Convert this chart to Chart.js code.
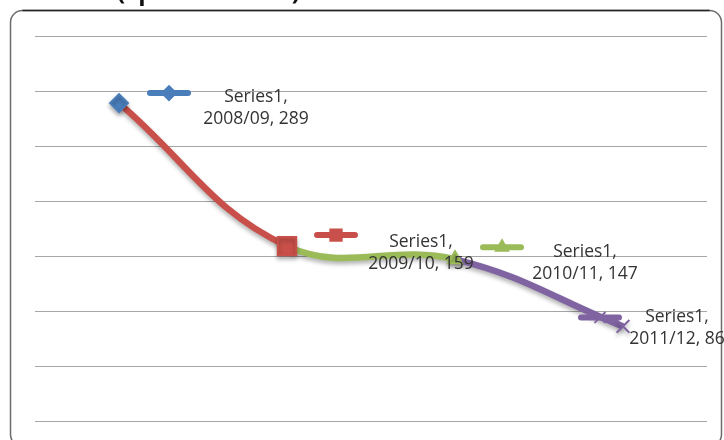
<!DOCTYPE html>
<html>
<head>
<meta charset="utf-8">
<script src="https://cdn.jsdelivr.net/npm/chart.js@4.4.1/dist/chart.umd.min.js"></script>
<style>
  html, body { margin: 0; padding: 0; background: #fff; }
  #wrap { width: 724px; height: 440px; position: relative; }
</style>
</head>
<body>
<div id="wrap"><canvas id="chart" width="724" height="440"></canvas></div>
<script>
    // data
    const seriesName = 'Series1';
    const categories = ['2008/09', '2009/10', '2010/11', '2011/12'];
    const values = [289, 159, 147, 86];
    const yTicks = [0, 50, 100, 150, 200, 250, 300, 350];

    // excel-ish vary colors by point
    const colors = ['#4a7ebb', '#c9504a', '#9bbb59', '#8064a2'];
    const markers = ['rectRot', 'rect', 'triangle', 'crossRot'];
    const markerSizes = [9, 13, 8, 9];
    const keySizes = [7, 8, 7, 7];

    // label placement relative to point (key centre, text centre)
    const keyOffsets = [[50, -10], [49, -11], [47, -12], [-23, -9]];
    const textOffsets = [[137, -6], [134, -4], [130, -7], [54, -9]];

    const frame = {
        id: 'frame',
        beforeDraw(chart) {
            const c = chart.ctx;
            c.save();
            c.fillStyle = '#fff';
            c.fillRect(0, 0, chart.width, chart.height);
            // cropped title
            c.fillStyle = '#111';
            c.font = 'bold 24px "Open Sans", sans-serif';
            c.textBaseline = 'alphabetic';
            c.fillText('(Spend in total)', 117, 0);
            // rounded plot frame
            c.strokeStyle = '#6b6b6b';
            c.lineWidth = 1.5;
            const x = 10.5, y = 10.5, w = 711, h = 436, r = 12;
            c.beginPath();
            c.moveTo(x + r, y);
            c.lineTo(x + w - r, y);
            c.arcTo(x + w, y, x + w, y + r, r);
            c.lineTo(x + w, y + h - r);
            c.arcTo(x + w, y + h, x + w - r, y + h, r);
            c.lineTo(x + r, y + h);
            c.arcTo(x, y + h, x, y + h - r, r);
            c.lineTo(x, y + r);
            c.arcTo(x, y, x + r, y, r);
            c.stroke();
            c.strokeStyle = '#222';
            c.beginPath();
            c.moveTo(x + r, y);
            c.lineTo(x + w - r, y);
            c.stroke();
            c.restore();
        },
        beforeDatasetsDraw(chart) {
            const c = chart.ctx;
            c.save();
            c.shadowColor = 'rgba(0,0,0,0.3)';
            c.shadowBlur = 4;
            c.shadowOffsetY = 3;
        },
        afterDatasetsDraw(chart) {
            const c = chart.ctx;
            c.restore();
            const meta = chart.getDatasetMeta(0);
            meta.data.forEach((pt, i) => {
                // legend key
                const kx = pt.x + keyOffsets[i][0];
                const ky = pt.y + keyOffsets[i][1];
                c.save();
                c.strokeStyle = colors[i];
                c.lineWidth = 6;
                c.lineCap = 'round';
                c.beginPath();
                c.moveTo(kx - 19, ky);
                c.lineTo(kx + 19, ky);
                c.stroke();
                c.fillStyle = colors[i];
                c.lineWidth = 2;
                Chart.helpers.drawPoint(c, {
                    pointStyle: markers[i],
                    radius: keySizes[i],
                    rotation: 0,
                    borderWidth: 2
                }, kx, ky);
                c.restore();
                // text
                const tx = pt.x + textOffsets[i][0];
                const ty = pt.y + textOffsets[i][1];
                c.save();
                c.fillStyle = '#333';
                c.font = '17.5px "Open Sans", sans-serif';
                c.textAlign = 'center';
                c.textBaseline = 'middle';
                c.fillText(seriesName + ',', tx, ty);
                c.fillText(categories[i] + ', ' + values[i], tx, ty + 22);
                c.restore();
            });
        }
    };

    const ctx = document.getElementById('chart').getContext('2d');
    const chart = new Chart(ctx, {
        type: 'line',
        data: {
            labels: categories,
            datasets: [{
                label: seriesName,
                data: values,
                borderWidth: 6.5,
                tension: 0.4,
                fill: false,
                segment: {
                    borderColor: c => colors[c.p1DataIndex]
                },
                pointStyle: markers,
                pointRadius: markerSizes,
                pointBackgroundColor: colors,
                pointBorderColor: colors,
                pointBorderWidth: 2
            }]
        },
        options: {
            responsive: false,
            animation: false,
            layout: { padding: { left: 35, right: 17, top: 36, bottom: 19 } },
            plugins: {
                legend: { display: false },
                tooltip: { enabled: false }
            },
            scales: {
                x: {
                    offset: true,
                    grid: { display: false, drawTicks: false },
                    border: { display: false },
                    ticks: { display: false }
                },
                y: {
                    min: yTicks[0],
                    max: yTicks[yTicks.length - 1],
                    afterBuildTicks: axis => { axis.ticks = yTicks.map(v => ({ value: v })); },
                    grid: { color: '#a6a6a6', lineWidth: 1, drawTicks: false },
                    border: { display: false },
                    ticks: { display: false }
                }
            }
        },
        plugins: [frame]
    });
</script>
</body>
</html>
